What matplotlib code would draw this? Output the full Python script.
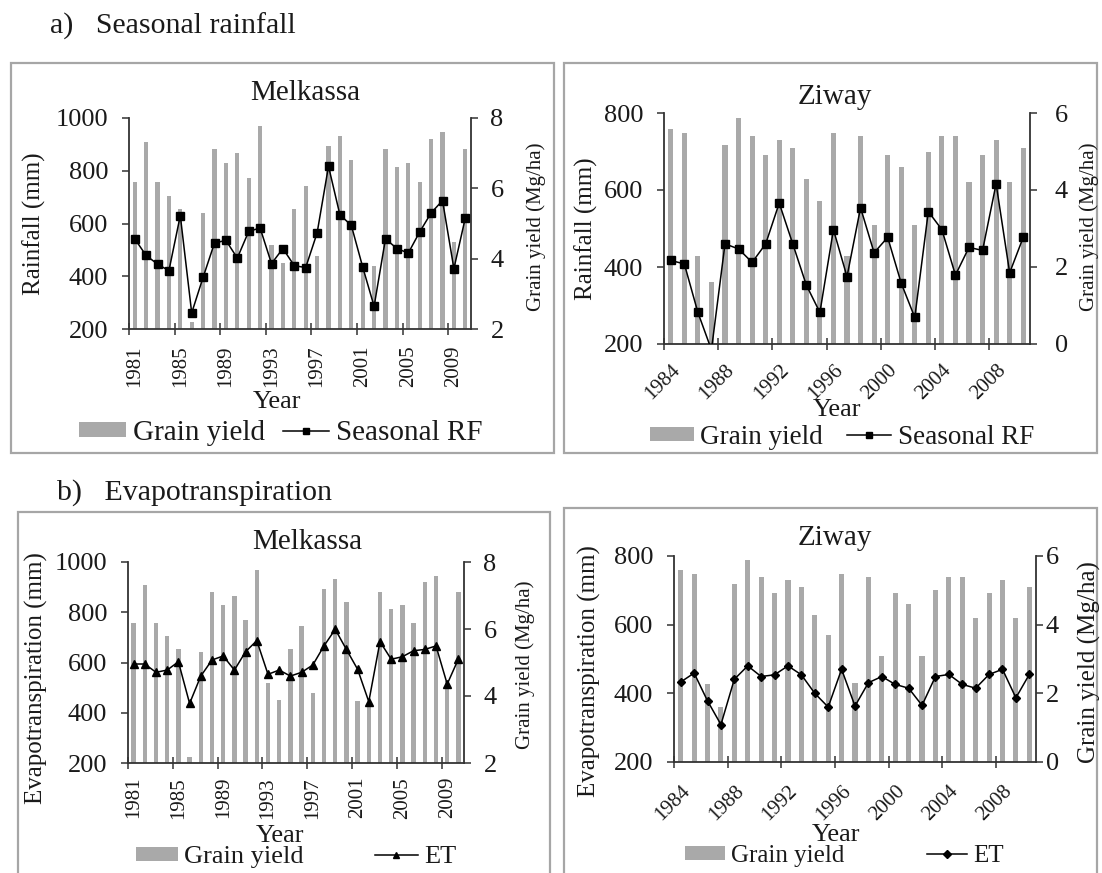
import matplotlib
matplotlib.use('Agg')
import matplotlib.pyplot as plt
from matplotlib.patches import Rectangle, Patch
from matplotlib.lines import Line2D
import numpy as np

# Melkassa, 1981-2010
melkassa_years = list(range(1981, 2011))
melkassa_yield = [6.17, 7.31, 6.18, 5.78, 5.41, 2.19, 5.31, 7.11, 6.71, 7.00,
                  6.28, 7.77, 4.39, 3.89, 5.41, 6.08, 4.08, 7.19, 7.48, 6.81,
                  3.86, 3.80, 7.11, 6.60, 6.71, 6.18, 7.40, 7.59, 4.46, 7.11]
melkassa_rainfall = [542, 479, 446, 421, 630, 261, 396, 526, 536, 469,
                     570, 583, 448, 505, 440, 433, 564, 817, 633, 593,
                     435, 286, 542, 505, 488, 568, 640, 687, 429, 621]
melkassa_et = [594, 594, 561, 570, 603, 437, 546, 610, 626, 570,
               643, 687, 553, 570, 546, 561, 590, 666, 732, 652,
               573, 444, 683, 613, 623, 647, 652, 666, 514, 614]

# Ziway, 1984-2010
ziway_years = list(range(1984, 2011))
ziway_yield = [5.58, 5.48, 2.28, 1.60, 5.18, 5.88, 5.40, 4.91, 5.31, 5.09,
               4.29, 3.71, 5.49, 2.29, 5.40, 3.09, 4.91, 4.60, 3.09, 5.00,
               5.40, 5.40, 4.20, 4.91, 5.31, 4.20, 5.09]
ziway_rainfall = [417, 408, 282, 185, 460, 447, 412, 460, 566, 460,
                  353, 282, 497, 375, 554, 437, 477, 358, 269, 544,
                  497, 379, 451, 443, 616, 385, 477]
ziway_et = [433, 459, 378, 309, 441, 480, 449, 454, 480, 454,
            400, 360, 470, 363, 431, 449, 426, 415, 365, 449,
            455, 426, 415, 455, 470, 387, 455]

plt.rcParams['font.family'] = ['Liberation Serif', 'DejaVu Serif']
plt.rcParams['text.color'] = '#1a1a1a'
plt.rcParams['xtick.color'] = '#333333'
plt.rcParams['ytick.color'] = '#333333'
plt.rcParams['xtick.labelcolor'] = '#1a1a1a'
plt.rcParams['ytick.labelcolor'] = '#1a1a1a'

W, H = 1102, 873
BAR = '#a9a9a9'
AXC = '#333333'
BOX = '#a6a6a6'

fig = plt.figure(figsize=(W / 100, H / 100), dpi=100)


def fx(x):
    return x / W


def fy(y):
    return 1 - y / H


def frame(x0, y0, x1, y1):
    fig.add_artist(Rectangle((fx(x0), fy(y1)), fx(x1) - fx(x0), fy(y0) - fy(y1),
                             transform=fig.transFigure, fill=False,
                             edgecolor=BOX, lw=1.6))


def panel(x0, x1, ytop, ybot, years, yields, values, ylim, y2lim,
          marker, ms, slanted, xpad, rpad):
    ax = fig.add_axes([fx(x0), fy(ybot), fx(x1) - fx(x0), fy(ytop) - fy(ybot)])
    ax2 = ax.twinx()
    n = len(years)
    idx = np.arange(n)

    ax2.bar(idx, yields, width=0.38, color=BAR, zorder=1)
    ax.plot(idx, values, color='black', lw=1.1, marker=marker, ms=ms,
            mfc='black', mec='black', zorder=3)
    ax.set_zorder(ax2.get_zorder() + 1)
    ax.patch.set_visible(False)

    ax.set_xlim(-0.5, n - 0.5)
    ax.set_ylim(*ylim)
    ax2.set_ylim(*y2lim)
    ax.set_yticks(np.arange(ylim[0], ylim[1] + 1, 200))
    ax2.set_yticks(np.arange(y2lim[0], y2lim[1] + 1, 2))

    ax.spines['top'].set_visible(False)
    ax.spines['right'].set_visible(False)
    ax2.spines['top'].set_visible(False)
    ax2.spines['left'].set_visible(False)
    ax2.spines['bottom'].set_visible(False)
    for sp in ('left', 'bottom'):
        ax.spines[sp].set_color(AXC)
        ax.spines[sp].set_linewidth(1.3)
    ax2.spines['right'].set_color(AXC)
    ax2.spines['right'].set_linewidth(1.3)

    # ticks sit on the category boundaries, labels on the category centres
    ax.set_xticks(np.arange(-0.5, n - 0.5, 4))
    ax.set_xticklabels([])
    ax.set_xticks(np.arange(0, n, 4), minor=True)
    labels = [str(years[i]) for i in range(0, n, 4)]
    if slanted:
        ax.set_xticklabels(labels, minor=True, rotation=45, ha='right',
                           va='top', rotation_mode='anchor')
    else:
        ax.set_xticklabels(labels, minor=True, rotation=90, ha='center', va='top')
    ax.tick_params(axis='x', which='minor', length=0, pad=xpad, labelsize=15)
    ax.tick_params(axis='x', which='major', direction='inout', length=8, width=1.1)
    ax.tick_params(axis='y', direction='out', length=5, width=1.1, pad=10, labelsize=19)
    ax2.tick_params(axis='y', direction='out', length=5, width=1.1, pad=rpad, labelsize=19)
    return ax


def legend(cx, cy, marker, label, size, colspace):
    handles = [Patch(facecolor=BAR, edgecolor='none'),
               Line2D([], [], color='black', lw=1.1, marker=marker, ms=4)]
    fig.legend(handles, ['Grain yield', label], loc='center',
               bbox_to_anchor=(fx(cx), fy(cy)), bbox_transform=fig.transFigure,
               ncol=2, frameon=False, fontsize=size, handlelength=1.6,
               handleheight=0.45, handletextpad=0.25, columnspacing=colspace,
               borderpad=0, borderaxespad=0)


# panel frames
frame(11, 63, 554, 453)
frame(564, 63, 1097, 453)
frame(18, 512, 550, 885)
frame(564, 508, 1097, 885)

fig.text(fx(50), fy(26), 'a)   Seasonal rainfall', fontsize=21.5, va='center', ha='left')
fig.text(fx(57), fy(493), 'b)   Evapotranspiration', fontsize=21.5, va='center', ha='left')

# a) seasonal rainfall
panel(129, 471, 118, 329, melkassa_years, melkassa_yield, melkassa_rainfall,
      (200, 1000), (2, 8), 's', 5.5, False, 12, 9)
fig.text(fx(305), fy(93), 'Melkassa', fontsize=21, ha='center', va='center')
fig.text(fx(34), fy(224), 'Rainfall (mm)', fontsize=18, rotation=90, ha='center', va='center')
fig.text(fx(536), fy(227), 'Grain yield (Mg/ha)', fontsize=15, rotation=90, ha='center', va='center')
fig.text(fx(277), fy(402), 'Year', fontsize=19, ha='center', va='center')
legend(281, 433, 's', 'Seasonal RF', 21, 0.6)

panel(664, 1030, 113, 344, ziway_years, ziway_yield, ziway_rainfall,
      (200, 800), (0, 6), 's', 5.5, True, 12, 13)
fig.text(fx(835), fy(97), 'Ziway', fontsize=21, ha='center', va='center')
fig.text(fx(586), fy(229), 'Rainfall (mm)', fontsize=18, rotation=90, ha='center', va='center')
fig.text(fx(1089), fy(227), 'Grain yield (Mg/ha)', fontsize=15, rotation=90, ha='center', va='center')
fig.text(fx(837), fy(410), 'Year', fontsize=19, ha='center', va='center')
legend(842, 437, 's', 'Seasonal RF', 19.5, 0.9)

# b) evapotranspiration
panel(128, 464, 562, 763, melkassa_years, melkassa_yield, melkassa_et,
      (200, 1000), (2, 8), '^', 6, False, 10, 9)
fig.text(fx(307), fy(542), 'Melkassa', fontsize=21, ha='center', va='center')
fig.text(fx(36), fy(678), 'Evapotranspiration (mm)', fontsize=18, rotation=90, ha='center', va='center')
fig.text(fx(525), fy(665), 'Grain yield (Mg/ha)', fontsize=15, rotation=90, ha='center', va='center')
fig.text(fx(280), fy(836), 'Year', fontsize=19, ha='center', va='center')
legend(296, 857, '^', 'ET', 19, 2.7)

panel(674, 1036, 556, 762, ziway_years, ziway_yield, ziway_et,
      (200, 800), (0, 6), 'D', 4.5, True, 14, 2)
fig.text(fx(835), fy(538), 'Ziway', fontsize=21, ha='center', va='center')
fig.text(fx(589), fy(671), 'Evapotranspiration (mm)', fontsize=18, rotation=90, ha='center', va='center')
fig.text(fx(1089), fy(662), 'Grain yield (Mg/ha)', fontsize=18, rotation=90, ha='center', va='center')
fig.text(fx(836), fy(835), 'Year', fontsize=19, ha='center', va='center')
legend(844, 856, 'D', 'ET', 18, 3.3)

fig.savefig('out.png', dpi=100)
